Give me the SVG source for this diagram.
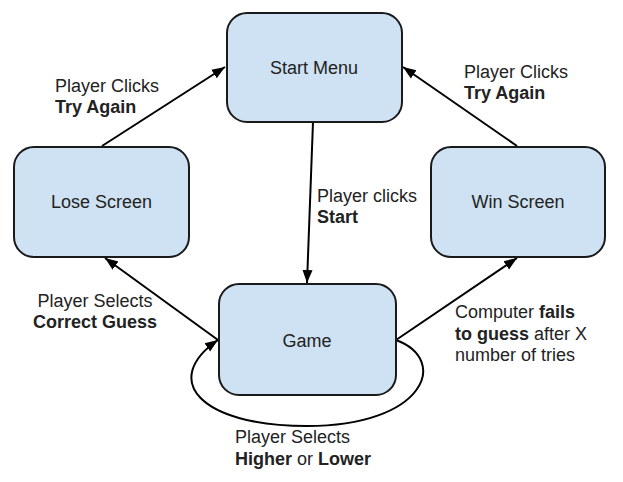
<svg xmlns="http://www.w3.org/2000/svg" width="623" height="482" viewBox="0 0 623 482">
<style>
.box{fill:#cfe2f3;stroke:#1a1a1a;stroke-width:2}
.lbl{font-family:"Liberation Sans",Arial,sans-serif;font-size:18px;fill:#222}
.c{text-anchor:middle}
.b{font-weight:bold}
.edge{fill:none;stroke:#000;stroke-width:2}
</style>
<defs>
<marker id="ah" markerUnits="userSpaceOnUse" markerWidth="14" markerHeight="12" viewBox="0 0 14 12" refX="13" refY="6" orient="auto">
<path d="M0,1 L13,6 L0,11 z" fill="#000"/>
</marker>
</defs>
<rect width="623" height="482" fill="#fff"/>
<g id="connectors">
<line class="edge" x1="102" y1="146" x2="225" y2="67" marker-end="url(#ah)"/>
<line class="edge" x1="517" y1="146" x2="403" y2="67" marker-end="url(#ah)"/>
<line class="edge" x1="313" y1="122" x2="307" y2="283" marker-end="url(#ah)"/>
<line class="edge" x1="218" y1="340" x2="105" y2="258" marker-end="url(#ah)"/>
<line class="edge" x1="396" y1="340" x2="517" y2="258" marker-end="url(#ah)"/>
<path class="edge" d="M396,340 C450,360 425,426 307,426 C200,426 160,380 218,340" marker-end="url(#ah)"/>
</g>
<g id="start-menu">
<rect class="box" x="227" y="13" width="175" height="109" rx="20"/>
<text class="lbl c" x="314" y="74">Start Menu</text>
</g>
<g id="lose-screen">
<rect class="box" x="14" y="147" width="175" height="110" rx="20"/>
<text class="lbl c" x="101.5" y="208">Lose Screen</text>
</g>
<g id="win-screen">
<rect class="box" x="431" y="147" width="174" height="110" rx="20"/>
<text class="lbl c" x="518" y="208">Win Screen</text>
</g>
<g id="game">
<rect class="box" x="219" y="284" width="177" height="111" rx="20"/>
<text class="lbl c" x="307" y="347">Game</text>
</g>
<g id="labels">
<text class="lbl" x="55" y="92">Player Clicks</text>
<text class="lbl b" x="55" y="113">Try Again</text>
<text class="lbl" x="464" y="78">Player Clicks</text>
<text class="lbl b" x="464" y="99">Try Again</text>
<text class="lbl" x="317" y="202">Player clicks</text>
<text class="lbl b" x="317" y="223">Start</text>
<text class="lbl c" x="95" y="307">Player Selects</text>
<text class="lbl c b" x="95" y="328">Correct Guess</text>
<text class="lbl" x="455" y="318">Computer <tspan class="b">fails</tspan></text>
<text class="lbl" x="455" y="340"><tspan class="b">to guess</tspan> after X</text>
<text class="lbl" x="455" y="361">number of tries</text>
<text class="lbl" x="235" y="443">Player Selects</text>
<text class="lbl" x="235" y="465"><tspan class="b">Higher</tspan> or <tspan class="b">Lower</tspan></text>
</g>
</svg>
